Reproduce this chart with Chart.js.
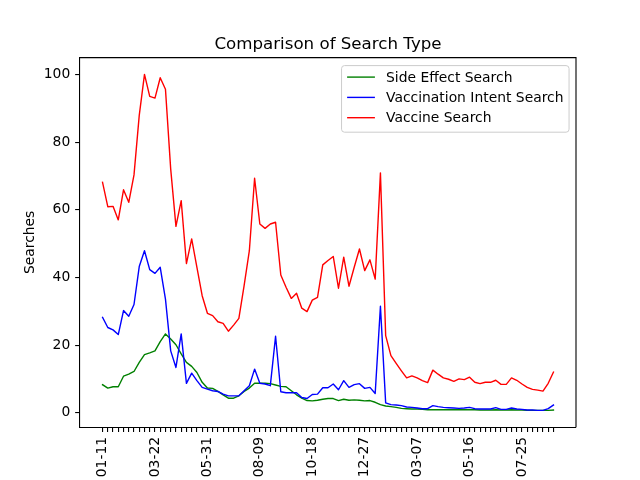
<!DOCTYPE html>
<html>
<head>
<meta charset="utf-8">
<title>Comparison of Search Type</title>
<script src="https://cdn.jsdelivr.net/npm/chart.js@4/dist/chart.umd.min.js"></script>
<style>
    html, body { margin: 0; padding: 0; background: #fff; }
    canvas { display: block; }
</style>
</head>
<body>
<canvas id="search-chart" width="640" height="480"></canvas>
<script>
// Variables
const weeks = [
    '01-11', '01-18', '01-25', '02-01', '02-08', '02-15', '02-22', '03-01', '03-08', '03-15',
    '03-22', '03-29', '04-05', '04-12', '04-19', '04-26', '05-03', '05-10', '05-17', '05-24',
    '05-31', '06-07', '06-14', '06-21', '06-28', '07-05', '07-12', '07-19', '07-26', '08-02',
    '08-09', '08-16', '08-23', '08-30', '09-06', '09-13', '09-20', '09-27', '10-04', '10-11',
    '10-18', '10-25', '11-01', '11-08', '11-15', '11-22', '11-29', '12-06', '12-13', '12-20',
    '12-27', '01-03', '01-10', '01-17', '01-24', '01-31', '02-07', '02-14', '02-21', '02-28',
    '03-07', '03-14', '03-21', '03-28', '04-04', '04-11', '04-18', '04-25', '05-02', '05-09',
    '05-16', '05-23', '05-30', '06-06', '06-13', '06-20', '06-27', '07-04', '07-11', '07-18',
    '07-25', '08-01', '08-08', '08-15', '08-22', '08-29', '09-05'
];
// only every 10th week gets a printed label
const labelEvery = 10;

const sideEffectSearch = [
    8.3, 7.3, 7.7, 7.7, 10.8, 11.4, 12.2, 14.9, 17.2, 17.7,
    18.3, 21.0, 23.3, 21.8, 20.1, 17.4, 14.9, 13.7, 11.9, 9.0,
    7.3, 7.2, 6.3, 5.3, 4.3, 4.3, 5.0, 6.3, 7.3, 8.7,
    8.7, 8.7, 8.6, 8.2, 7.8, 7.7, 6.5, 5.3, 4.3, 3.6,
    3.5, 3.7, 4.0, 4.2, 4.2, 3.6, 4.0, 3.7, 3.8, 3.7,
    3.5, 3.6, 3.1, 2.4, 2.0, 1.8, 1.6, 1.3, 1.2, 1.1,
    1.1, 1.0, 0.9, 0.9, 0.9, 0.9, 0.9, 0.9, 0.9, 0.9,
    0.9, 0.9, 0.8, 0.8, 0.8, 0.9, 0.8, 0.8, 0.9, 0.8,
    0.8, 0.7, 0.7, 0.7, 0.7, 0.7, 0.8
];

const vaccinationIntentSearch = [
    28.2, 25.2, 24.5, 23.1, 30.2, 28.5, 32.0, 43.2, 47.9, 42.3,
    41.2, 43.0, 33.6, 18.3, 13.4, 23.3, 8.7, 11.7, 9.5, 7.5,
    7.0, 6.5, 6.3, 5.5, 5.0, 5.0, 5.0, 6.5, 8.0, 12.9,
    8.7, 8.5, 8.0, 22.6, 6.2, 5.9, 5.9, 5.9, 4.5, 4.2,
    5.4, 5.5, 7.4, 7.4, 8.5, 6.8, 9.5, 7.5, 8.3, 8.6,
    7.2, 7.5, 5.7, 31.5, 2.9, 2.4, 2.3, 2.1, 1.7, 1.6,
    1.4, 1.2, 1.2, 2.1, 1.8, 1.6, 1.5, 1.4, 1.3, 1.4,
    1.6, 1.2, 1.1, 1.1, 1.1, 1.5, 1.0, 1.0, 1.4, 1.1,
    1.0, 0.8, 0.8, 0.7, 0.7, 1.2, 2.3
];

const vaccineSearch = [
    68.1, 60.9, 61.0, 57.0, 65.9, 62.2, 70.3, 87.9, 100, 93.5,
    93.0, 99.0, 95.6, 72.0, 55.1, 62.7, 44.1, 51.4, 43.0, 34.6,
    29.4, 28.7, 26.9, 26.4, 24.1, 25.9, 27.9, 37.6, 47.9, 69.3,
    55.8, 54.5, 55.8, 56.3, 40.7, 37.1, 33.8, 35.3, 30.9, 29.9,
    33.3, 34.1, 43.7, 45.0, 46.2, 36.8, 46.0, 37.4, 43.0, 48.4,
    42.0, 45.2, 39.5, 70.9, 22.8, 16.9, 14.6, 12.4, 10.3, 10.9,
    10.3, 9.5, 8.9, 12.6, 11.4, 10.3, 9.9, 9.3, 10.0, 9.8,
    10.5, 9.0, 8.6, 9.0, 9.0, 9.6, 8.4, 8.4, 10.3, 9.6,
    8.5, 7.5, 6.9, 6.7, 6.4, 8.7, 12.0
];

const yTicks = [0, 20, 40, 60, 80, 100];

const chartTitle = 'Comparison of Search Type';
const yTitle = 'Searches';
const fontFamily = '"DejaVu Sans", "Liberation Sans", sans-serif';

// matplotlib sizes at 100 dpi (10pt / 12pt)
const tickFont = 13.89;
const titleFont = 16.67;
const lineW = 1.4;

Chart.defaults.font.family = fontFamily;
Chart.defaults.color = '#000';

const toPoints = (values) => values.map((v, i) => ({ x: i, y: v }));


// ------------- Frame, title and legend drawn the matplotlib way ---------------------------------
const framePlugin = {
    id: 'frame',
    afterDraw(chart) {
        const c = chart.ctx;
        const a = chart.chartArea;
        c.save();

        // top and right edges of the box (left / bottom come from the axes)
        c.beginPath();
        c.strokeStyle = '#000000';
        c.lineWidth = 1.1;
        c.moveTo(a.left, a.top);
        c.lineTo(a.right, a.top);
        c.lineTo(a.right, a.bottom);
        c.stroke();

        // title
        c.fillStyle = '#000000';
        c.font = titleFont + 'px ' + fontFamily;
        c.textAlign = 'center';
        c.textBaseline = 'alphabetic';
        c.fillText(chartTitle, (a.left + a.right) / 2, a.top - 8.3);

        // legend, upper right
        c.font = tickFont + 'px ' + fontFamily;
        const sets = chart.data.datasets;
        let textW = 0;
        sets.forEach(ds => { textW = Math.max(textW, c.measureText(ds.label).width); });
        const pad = 5.56, handle = 27.8, gap = 11.1, rowH = 20.3;
        const boxW = pad * 2 + handle + gap + textW;
        const boxH = 66.6;
        const boxR = a.right - 6.94;
        const boxL = boxR - boxW;
        const boxT = a.top + 8;

        c.beginPath();
        c.roundRect(boxL, boxT, boxW, boxH, 3);
        c.fillStyle = 'rgba(255,255,255,0.8)';
        c.fill();
        c.strokeStyle = '#cccccc';
        c.lineWidth = 1;
        c.stroke();

        c.textAlign = 'left';
        c.textBaseline = 'middle';
        sets.forEach((ds, i) => {
            const y = boxT + 11.5 + i * rowH;
            c.beginPath();
            c.strokeStyle = ds.borderColor;
            c.lineWidth = lineW;
            c.moveTo(boxL + pad, y);
            c.lineTo(boxL + pad + handle, y);
            c.stroke();
            c.fillStyle = '#000000';
            c.fillText(ds.label, boxL + pad + handle + gap, y + 1);
        });

        c.restore();
    }
};


// -------------------- Chart.js Code -------------------------------------------------------------------------------------
const ctx = document.getElementById('search-chart');
const searchChart = new Chart(ctx, {
    type: 'line',
    data: {
        datasets: [{
            label: 'Side Effect Search',
            data: toPoints(sideEffectSearch),
            borderColor: '#008000',
            borderWidth: lineW,
            pointRadius: 0,
            order: 3
        }, {
            label: 'Vaccination Intent Search',
            data: toPoints(vaccinationIntentSearch),
            borderColor: '#0000ff',
            borderWidth: lineW,
            pointRadius: 0,
            order: 2
        }, {
            label: 'Vaccine Search',
            data: toPoints(vaccineSearch),
            borderColor: '#ff0000',
            borderWidth: lineW,
            pointRadius: 0,
            order: 1
        }]
    },
    options: {
        responsive: false,
        animation: false,
        devicePixelRatio: 1,
        layout: {
            padding: { left: 0, top: 57.6, right: 64, bottom: 0 }
        },
        elements: {
            line: { tension: 0, borderCapStyle: 'square', borderJoinStyle: 'round' }
        },
        plugins: {
            legend: { display: false },
            tooltip: { enabled: false },
            title: { display: false }
        },
        scales: {
            x: {
                type: 'linear',
                min: -4.3,
                max: weeks.length - 1 + 4.3,
                afterBuildTicks: (scale) => {
                    scale.ticks = weeks.map((w, i) => ({ value: i }));
                },
                afterFit: (scale) => { scale.height = 52.8; },
                grid: {
                    drawOnChartArea: false,
                    drawTicks: true,
                    tickLength: 4.86,
                    lineWidth: 1.1,
                    color: '#000'
                },
                border: { color: '#000', width: 1.1 },
                ticks: {
                    autoSkip: false,
                    minRotation: 90,
                    maxRotation: 90,
                    padding: 4.86,
                    font: { size: tickFont },
                    callback: (value, index) => (index % labelEvery === 0 ? weeks[index] : '')
                }
            },
            y: {
                min: -4.27,
                max: 104.97,
                afterBuildTicks: (scale) => {
                    scale.ticks = yTicks.map(v => ({ value: v }));
                },
                afterFit: (scale) => { scale.width = 80; },
                grid: {
                    drawOnChartArea: false,
                    drawTicks: true,
                    tickLength: 4.86,
                    lineWidth: 1.1,
                    color: '#000'
                },
                border: { color: '#000', width: 1.1 },
                ticks: {
                    padding: 4.86,
                    font: { size: tickFont }
                },
                title: {
                    display: true,
                    text: yTitle,
                    font: { size: tickFont },
                    padding: { top: 22, bottom: 0 }
                }
            }
        }
    },
    plugins: [framePlugin]
});
</script>
</body>
</html>
